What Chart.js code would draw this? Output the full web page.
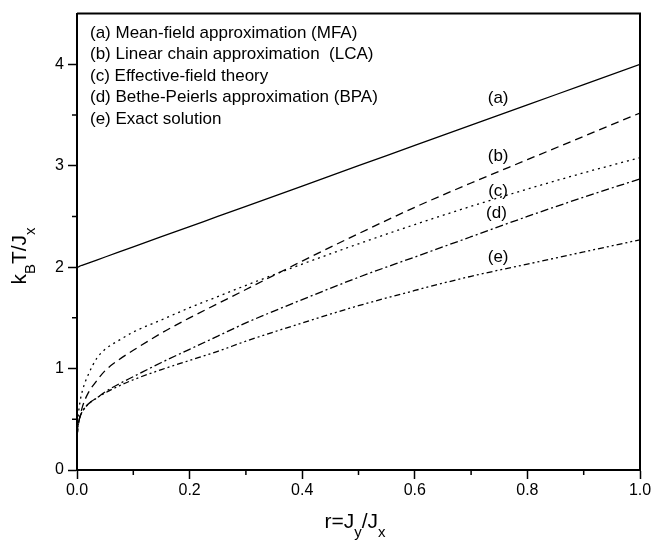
<!DOCTYPE html>
<html>
<head>
<meta charset="utf-8">
<script src="https://cdn.jsdelivr.net/npm/chart.js@4/dist/chart.umd.min.js"></script>
<style>
  html, body { margin: 0; padding: 0; background: #fff; }
  canvas { display: block; }
</style>
</head>
<body>
<canvas id="tcChart" width="656" height="540"></canvas>
<script>
// r = Jy/Jx sample points
const rVals = [0, 0.002, 0.005, 0.01, 0.02, 0.035, 0.05, 0.075, 0.1, 0.15, 0.2, 0.25, 0.3, 0.4, 0.5, 0.6, 0.7, 0.8, 0.9, 1.0];

// kB T / Jx for each approximation
const mfa = [2.00, 2.00, 2.01, 2.02, 2.04, 2.07, 2.10, 2.15, 2.20, 2.30, 2.40, 2.50, 2.60, 2.80, 3.00, 3.20, 3.40, 3.60, 3.80, 4.00];
const lca = [0.33, 0.43, 0.52, 0.63, 0.76, 0.88, 0.98, 1.09, 1.18, 1.35, 1.50, 1.64, 1.78, 2.06, 2.33, 2.59, 2.83, 3.06, 3.29, 3.52];
const eft = [0.35, 0.52, 0.66, 0.79, 0.94, 1.10, 1.19, 1.28, 1.36, 1.48, 1.60, 1.71, 1.82, 2.03, 2.23, 2.42, 2.60, 2.77, 2.93, 3.08];
const bpa = [0.33, 0.44, 0.52, 0.58, 0.65, 0.71, 0.77, 0.85, 0.92, 1.06, 1.19, 1.32, 1.45, 1.68, 1.90, 2.10, 2.30, 2.50, 2.69, 2.87];
const exact = [0.33, 0.44, 0.52, 0.58, 0.65, 0.71, 0.76, 0.83, 0.89, 0.99, 1.08, 1.17, 1.27, 1.45, 1.62, 1.77, 1.91, 2.03, 2.15, 2.27];

const xTicks = [0, 0.2, 0.4, 0.6, 0.8, 1.0];
const xMinor = [0.1, 0.3, 0.5, 0.7, 0.9];
const yTicks = [0, 1, 2, 3, 4];
const yMinor = [0.5, 1.5, 2.5, 3.5];

const legendLines = [
  '(a) Mean-field approximation (MFA)',
  '(b) Linear chain approximation  (LCA)',
  '(c) Effective-field theory',
  '(d) Bethe-Peierls approximation (BPA)',
  '(e) Exact solution'
];
const curveTags = ['(a)', '(b)', '(c)', '(d)', '(e)'];
const tagR = [0.748, 0.748, 0.748, 0.745, 0.748];
const tagV = [3.66, 3.09, 2.75, 2.53, 2.10];

const FONT = '"Liberation Sans", Arial, Helvetica, sans-serif';

function pts(ys){ return rVals.map((r, i) => ({ x: r, y: ys[i] })); }

function line(label, ys, dash){
  return {
    label, data: pts(ys),
    borderColor: '#000', borderWidth: 1.3, borderDash: dash,
    pointRadius: 0, fill: false, cubicInterpolationMode: 'monotone'
  };
}

// draw text with subscripts, centred on (x, y)
function richText(ctx, parts, x, y, size){
  const sub = Math.round(size * 0.7);
  let w = 0;
  parts.forEach(([t, s]) => { ctx.font = (s ? sub : size) + 'px ' + FONT; w += ctx.measureText(t).width; });
  let cx = x - w / 2;
  ctx.textAlign = 'left';
  ctx.textBaseline = 'middle';
  parts.forEach(([t, s]) => {
    ctx.font = (s ? sub : size) + 'px ' + FONT;
    ctx.fillText(t, cx, s ? y + size * 0.5 : y);
    cx += ctx.measureText(t).width;
  });
}

const decor = {
  id: 'decor',
  afterDraw(chart){
    const { ctx, chartArea: a, scales: { x, y } } = chart;
    ctx.save();
    ctx.strokeStyle = '#000';
    ctx.fillStyle = '#000';

    // frame (top / right)
    ctx.lineWidth = 2;
    ctx.beginPath();
    ctx.moveTo(a.left, a.top); ctx.lineTo(a.right, a.top); ctx.lineTo(a.right, a.bottom);
    ctx.stroke();

    // minor ticks
    ctx.lineWidth = 1.5;
    ctx.beginPath();
    xMinor.forEach(v => { const px = x.getPixelForValue(v); ctx.moveTo(px, a.bottom); ctx.lineTo(px, a.bottom + 5); });
    yMinor.forEach(v => { const py = y.getPixelForValue(v); ctx.moveTo(a.left, py); ctx.lineTo(a.left - 5, py); });
    ctx.stroke();

    // legend text
    ctx.font = '17px ' + FONT;
    ctx.textAlign = 'left';
    ctx.textBaseline = 'middle';
    legendLines.forEach((t, i) => ctx.fillText(t, 90, 33 + i * 21.5));

    // curve tags
    ctx.textAlign = 'center';
    curveTags.forEach((t, i) => ctx.fillText(t, x.getPixelForValue(tagR[i]), y.getPixelForValue(tagV[i])));

    // axis titles
    richText(ctx, [['r=J', 0], ['y', 1], ['/J', 0], ['x', 1]], 355, 522, 21);
    ctx.translate(20, 256);
    ctx.rotate(-Math.PI / 2);
    richText(ctx, [['k', 0], ['B', 1], ['T/J', 0], ['x', 1]], 0, 0, 21);
    ctx.restore();
  }
};

const tickFont = { family: FONT, size: 16 };

new Chart(document.getElementById('tcChart').getContext('2d'), {
  type: 'line',
  data: {
    datasets: [
      line('MFA', mfa, []),
      line('LCA', lca, [8, 5]),
      line('EFT', eft, [2, 4]),
      line('BPA', bpa, [8, 3, 2, 3]),
      line('Exact', exact, [6, 3, 2, 3, 2, 3])
    ]
  },
  options: {
    responsive: false,
    animation: false,
    layout: { padding: { left: 0, right: 16, top: 11, bottom: 0 } },
    plugins: { legend: { display: false }, tooltip: { enabled: false } },
    scales: {
      x: {
        type: 'linear', min: 0, max: 1,
        afterBuildTicks: s => { s.ticks = xTicks.map(v => ({ value: v })); },
        afterFit: s => { s.height = 70; },
        ticks: { color: '#000', font: tickFont, padding: 2, callback: v => v.toFixed(1) },
        grid: { drawOnChartArea: false, tickLength: 9, tickWidth: 1.5, tickColor: '#000' },
        border: { color: '#000', width: 2 }
      },
      y: {
        type: 'linear', min: 0, max: 4.5,
        afterBuildTicks: s => { s.ticks = yTicks.map(v => ({ value: v })); },
        afterFit: s => { s.width = 77; },
        ticks: { color: '#000', font: tickFont, padding: 4, callback: v => String(v) },
        grid: { drawOnChartArea: false, tickLength: 9, tickWidth: 1.5, tickColor: '#000' },
        border: { color: '#000', width: 2 }
      }
    }
  },
  plugins: [decor]
});
</script>
</body>
</html>
